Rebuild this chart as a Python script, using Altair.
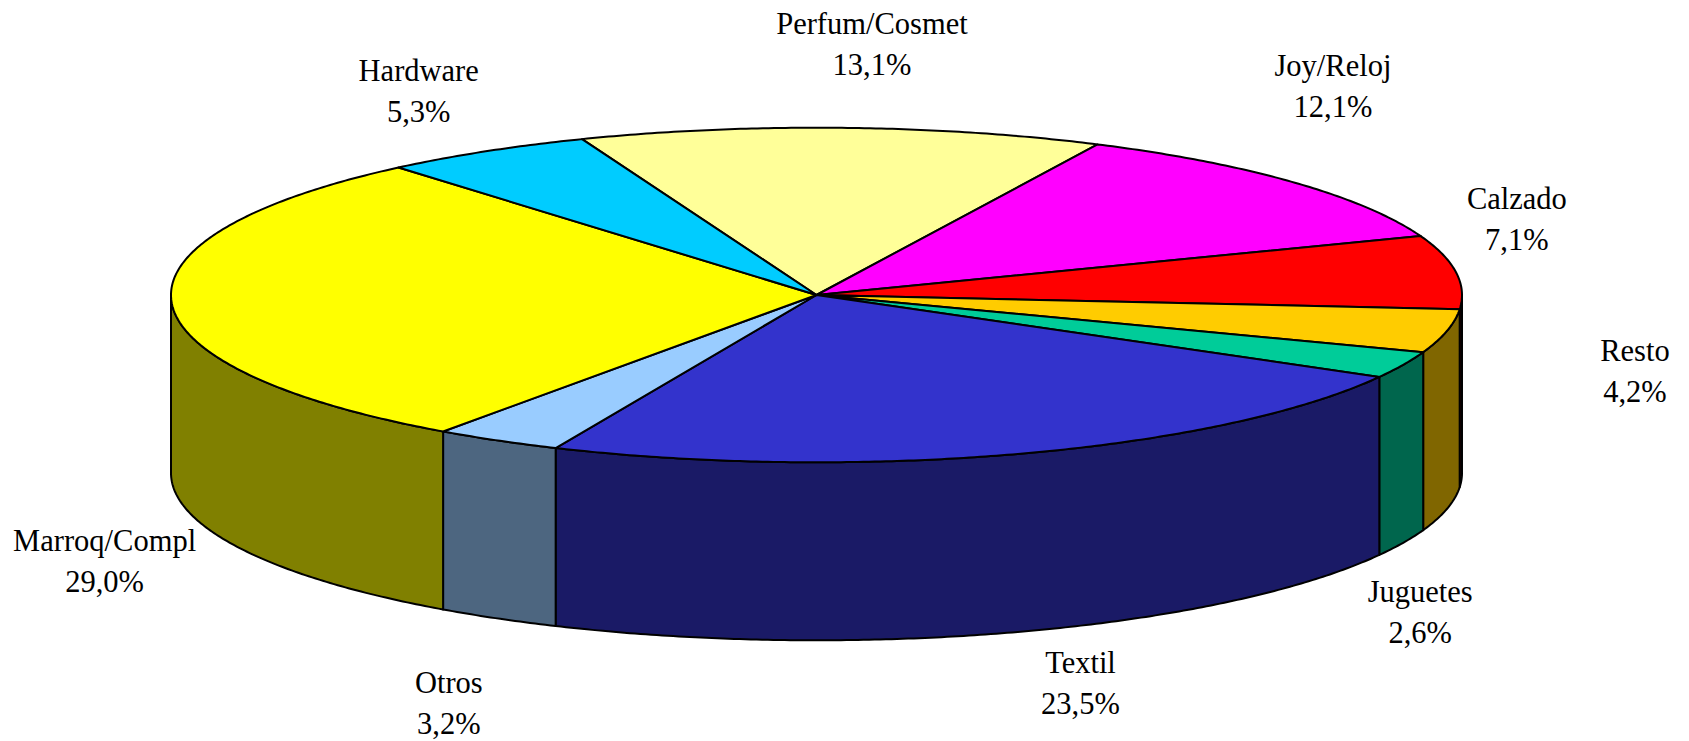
import math
import altair as alt
import pandas as pd

# Data
names = ["Perfum/Cosmet", "Joy/Reloj", "Calzado", "Resto", "Juguetes",
         "Textil", "Otros", "Marroq/Compl", "Hardware"]
shares = [13.1, 12.1, 7.1, 4.2, 2.6, 23.5, 3.2, 29.0, 5.3]
top_colors = ["#FFFF99", "#FF00FF", "#FF0000", "#FFCC00", "#00CC99",
              "#3333CC", "#99CCFF", "#FFFF00", "#00CCFF"]
side_colors = ["#808050", "#800080", "#800000", "#806600", "#00664D",
               "#1A1A66", "#4D6680", "#808000", "#006680"]

# Layout of the tilted disc (page pixels)
CX, CY, RX, RY, DEPTH = 808.5, 287.0, 645.5, 167.3, 178.0
START = -21.3
LINE_HEIGHT = 41
# label offset from the rim at each slice's middle angle
label_dx = [30, 40, 61, 188, 17, 60, -49, -67, -67]
label_dy = [-82, -95, -51, 42, 249, 231, 264, 260, -59]


def rim(deg, drop=0.0):
    t = math.radians(deg)
    return [CX + RX * math.sin(t), CY - RY * math.cos(t) + drop]


def arc(a, b, drop=0.0):
    n = max(2, int(abs(b - a) * 2))
    return [rim(a + (b - a) * i / n, drop) for i in range(n + 1)]


def feature(key, ring):
    ring = ring + [ring[0]]
    return {"type": "Feature", "properties": {"key": key},
            "geometry": {"type": "Polygon", "coordinates": [ring]}}


total = sum(shares)
walls, tops, label_rows = [], [], []
cum = 0.0
for i, (name, share) in enumerate(zip(names, shares)):
    a0 = START + cum / total * 360
    a1 = START + (cum + share) / total * 360
    cum += share
    # the visible wall is the front half of the rim: 90..270 deg from the top
    lo, hi = max(a0, 90), min(a1, 270)
    if hi > lo:
        walls.append(feature(name + " lado",
                             arc(lo, hi) + arc(hi, lo, DEPTH)))
    tops.append(feature(name, [[CX, CY]] + arc(a0, a1)))
    mx, my = rim((a0 + a1) / 2)
    label_rows.append({
        "x": mx + label_dx[i],
        # the two-line block is anchored on its first line
        "y": my + label_dy[i] - LINE_HEIGHT / 2,
        "label": f"{name}\n{share:.1f}%".replace(".", ","),
    })

features = walls + tops
domain = names + [n + " lado" for n in names]
color_range = top_colors + side_colors
projection = dict(type="identity", scale=1, translate=[0, 0])

pie = (
    alt.Chart(alt.Data(values=features))
    .mark_geoshape(stroke="#000000", strokeWidth=2, strokeJoin="round")
    .encode(color=alt.Color("properties.key:N", legend=None,
                            scale=alt.Scale(domain=domain, range=color_range)))
    .project(**projection)
)

labels = (
    alt.Chart(pd.DataFrame(label_rows))
    .mark_text(font="Liberation Serif", fontSize=30.5, lineBreak="\n",
               lineHeight=LINE_HEIGHT, align="center", baseline="middle",
               color="#000000")
    .encode(longitude="x:Q", latitude="y:Q", text="label:N")
    .project(**projection)
)

chart = (
    alt.layer(pie, labels)
    .properties(width=1673, height=733, padding=0,
                autosize=alt.AutoSizeParams(type="none"),
                background="#FFFFFF")
    .configure_view(stroke=None)
)

chart.save("out.html", embed_options={"renderer": "svg", "actions": False})
